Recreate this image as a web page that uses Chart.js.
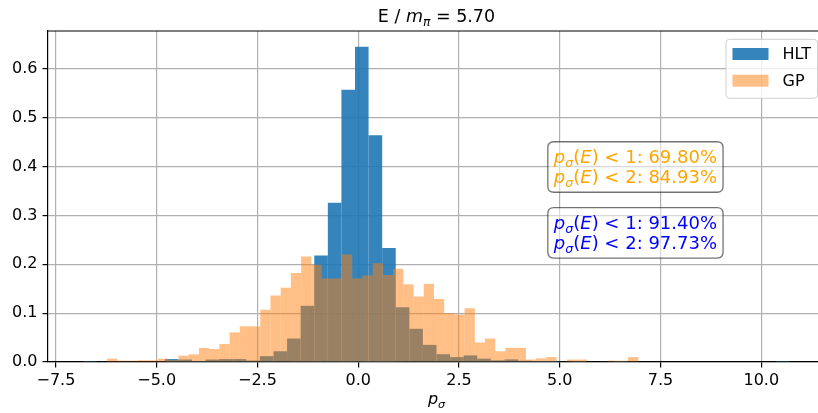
<!DOCTYPE html>
<html>
<head>
<meta charset="utf-8">
<script src="https://cdn.jsdelivr.net/npm/chart.js@4.4.1/dist/chart.umd.min.js"></script>
<style>
  html, body { margin: 0; padding: 0; overflow: hidden; background: #fff; }
  #wrap { width: 825px; height: 413px; position: relative; }
</style>
</head>
<body>
<div id="wrap"><canvas id="histChart"></canvas></div>
<script>
// histogram bins: first left edge, bin width, density per bin
const hltStart = -6.82;
const hltWidth = 0.337;
const hltDensity = [
  0.002, 0, 0, 0, 0, 0, 0.006, 0.005, 0.002, 0.005,
  0.006, 0.006, 0.003, 0.012, 0.022, 0.048, 0.115, 0.218, 0.326, 0.557,
  0.645, 0.464, 0.233, 0.112, 0.068, 0.035, 0.016, 0.010, 0.0135, 0.0068,
  0.0034, 0.0054, 0.0027, 0.002, 0.002, 0.001, 0.002, 0, 0.001, 0.002,
  0.001, 0, 0, 0, 0, 0, 0, 0, 0, 0,
  0, 0.002
];
const gpStart = -6.233;
const gpWidth = 0.2535;
const gpDensity = [
  0.0068, 0.0027, 0.0027, 0.0034, 0.0034, 0.0068, 0.004, 0.013, 0.0156, 0.0286,
  0.0265, 0.0367, 0.0605, 0.073, 0.073, 0.107, 0.136, 0.152, 0.182, 0.216,
  0.199, 0.171, 0.171, 0.220, 0.171, 0.177, 0.202, 0.178, 0.191, 0.159,
  0.134, 0.160, 0.129, 0.100, 0.097, 0.110, 0.040, 0.048, 0.022, 0.029,
  0.029, 0.005, 0.0075, 0.010, 0, 0.005, 0.005, 0, 0, 0.0027,
  0.0027, 0.010
];
const seriesNames = ["HLT", "GP"];
const xTicks = [-7.5, -5.0, -2.5, 0.0, 2.5, 5.0, 7.5, 10.0];
const yTicks = [0.0, 0.1, 0.2, 0.3, 0.4, 0.5, 0.6];
const thresholds = [1, 2];
const gpBelow = [69.80, 84.93];
const hltBelow = [91.40, 97.73];
const energy = 5.70;

const family = '"DejaVu Sans", sans-serif';
const tickSize = 16;

function toBins(start, width, dens) {
  return dens.map((d, i) => ({ x: start + (i + 0.5) * width, y: d }));
}

// axis range like matplotlib: data extent plus 5% margin
const lo = Math.min(hltStart, gpStart);
const hi = Math.max(hltStart + hltDensity.length * hltWidth, gpStart + gpDensity.length * gpWidth);
const xPad = 0.05 * (hi - lo);
const xMin = lo - xPad, xMax = hi + xPad;
const yMax = Math.max(...hltDensity, ...gpDensity) * 1.05;

const fmt = v => v.toFixed(1).replace("-", "\u2212");

// mixed italic / subscript text run
function runWidth(ctx, parts, size) {
  let w = 0;
  parts.forEach(p => {
    const s = p.sub ? size * 0.7 : size;
    ctx.font = (p.it ? "italic " : "") + s + "px " + family;
    w += ctx.measureText(p.t).width;
  });
  return w;
}
function drawRun(ctx, parts, x, y, size) {
  ctx.textBaseline = "alphabetic";
  ctx.textAlign = "left";
  parts.forEach(p => {
    const s = p.sub ? size * 0.7 : size;
    ctx.font = (p.it ? "italic " : "") + s + "px " + family;
    ctx.fillText(p.t, x, y + (p.sub ? size * 0.22 : 0));
    x += ctx.measureText(p.t).width;
  });
  return x;
}
function roundRect(ctx, x, y, w, h, r) {
  ctx.beginPath();
  ctx.moveTo(x + r, y);
  ctx.lineTo(x + w - r, y);
  ctx.quadraticCurveTo(x + w, y, x + w, y + r);
  ctx.lineTo(x + w, y + h - r);
  ctx.quadraticCurveTo(x + w, y + h, x + w - r, y + h);
  ctx.lineTo(x + r, y + h);
  ctx.quadraticCurveTo(x, y + h, x, y + h - r);
  ctx.lineTo(x, y + r);
  ctx.quadraticCurveTo(x, y, x + r, y);
  ctx.closePath();
}

const pSigma = [{ t: "p", it: true }, { t: "\u03c3", it: true, sub: true }];

const decorPlugin = {
  id: "decor",
  afterDraw(chart) {
    const ctx = chart.ctx;
    const a = chart.chartArea;
    ctx.save();

    // top spine
    ctx.strokeStyle = "#000";
    ctx.lineWidth = 1.2;
    ctx.beginPath();
    ctx.moveTo(a.left, a.top);
    ctx.lineTo(a.right, a.top);
    ctx.stroke();

    // title
    ctx.fillStyle = "#000";
    const title = [{ t: "E / " }, { t: "m", it: true }, { t: "\u03c0", it: true, sub: true }, { t: " = " + energy.toFixed(2) }];
    const tSize = 17.5;
    const cx = (a.left + a.right) / 2;
    drawRun(ctx, title, cx - runWidth(ctx, title, tSize) / 2, 22, tSize);

    // x label
    const xl = pSigma;
    drawRun(ctx, xl, cx - runWidth(ctx, xl, 16) / 2, 404, 16);

    // stats boxes
    const sSize = 18;
    const boxes = [
      { vals: gpBelow, color: "orange", base: a.top + 0.3995 * a.height },
      { vals: hltBelow, color: "blue", base: a.top + 0.5985 * a.height }
    ];
    const tx = a.left + 0.651 * a.width;
    boxes.forEach(b => {
      const lines = b.vals.map((v, i) => pSigma.concat([{ t: "(" }, { t: "E", it: true }, { t: ")" }, { t: " < " + thresholds[i] + ": " + v.toFixed(2) + "%" }]));
      const w = Math.max(...lines.map(l => runWidth(ctx, l, sSize)));
      const lead = 20;
      roundRect(ctx, tx - 6, b.base - 21.5, w + 12, lead + 30.5, 6);
      ctx.fillStyle = "rgba(255,255,255,0.5)";
      ctx.fill();
      ctx.strokeStyle = "rgba(0,0,0,0.55)";
      ctx.lineWidth = 1.3;
      ctx.stroke();
      ctx.fillStyle = b.color;
      lines.forEach((l, i) => drawRun(ctx, l, tx, b.base + i * lead, sSize));
    });

    // legend
    const lgSize = 16;
    ctx.font = lgSize + "px " + family;
    const labelW = Math.max(...chart.data.datasets.map(d => ctx.measureText(d.label).width));
    const pad = 6.5, hw = 36, hh = 12, gap = 14, row = 26.7;
    const lw = pad + hw + gap + labelW + pad;
    const lh = 59;
    const lx = a.right - 7.5 - lw, ly = a.top + 8.3;
    roundRect(ctx, lx, ly, lw, lh, 3.5);
    ctx.fillStyle = "rgba(255,255,255,0.8)";
    ctx.fill();
    ctx.strokeStyle = "#d0d0d0";
    ctx.lineWidth = 1;
    ctx.stroke();
    chart.data.datasets.forEach((d, i) => {
      const cy = ly + 14.7 + i * row;
      ctx.fillStyle = d.backgroundColor;
      ctx.fillRect(lx + pad, cy - hh / 2, hw, hh);
      ctx.fillStyle = "#000";
      ctx.font = lgSize + "px " + family;
      ctx.textBaseline = "middle";
      ctx.textAlign = "left";
      ctx.fillText(d.label, lx + pad + hw + gap, cy + 1);
    });
    ctx.restore();
  }
};

const gridStyle = { color: "#b0b0b0", lineWidth: 1.2, tickLength: 5.5, tickColor: "#000", tickWidth: 1.2, offset: false };
const borderStyle = { color: "#000", width: 1.2 };

new Chart(document.getElementById("histChart"), {
  type: "bar",
  data: {
    datasets: [
      {
        label: seriesNames[0],
        data: toBins(hltStart, hltWidth, hltDensity),
        xAxisID: "x",
        backgroundColor: "rgba(31,119,180,0.9)",
        order: 2
      },
      {
        label: seriesNames[1],
        data: toBins(gpStart, gpWidth, gpDensity),
        xAxisID: "xGP",
        backgroundColor: "rgba(255,127,14,0.5)",
        order: 1
      }
    ]
  },
  options: {
    responsive: true,
    maintainAspectRatio: false,
    animation: false,
    datasets: {
      bar: { grouped: false, barPercentage: 1, categoryPercentage: 1, borderWidth: 0, inflateAmount: 0 }
    },
    layout: { padding: { top: 31, left: 0, right: 0, bottom: 0 } },
    plugins: {
      legend: { display: false },
      tooltip: { enabled: false },
      title: { display: false }
    },
    scales: {
      x: {
        type: "linear",
        position: "bottom",
        min: xMin,
        max: xMax,
        offset: false,
        z: 1,
        afterBuildTicks: s => { s.ticks = xTicks.map(v => ({ value: v })); },
        afterFit: s => { s.height = 51; },
        grid: gridStyle,
        border: borderStyle,
        ticks: {
          color: "#000",
          font: { family: family, size: tickSize },
          padding: 4,
          maxRotation: 0,
          autoSkip: false,
          callback: v => fmt(v)
        }
      },
      xGP: {
        type: "linear",
        display: false,
        min: xMin,
        max: xMax,
        offset: false
      },
      y: {
        min: 0,
        max: yMax,
        z: 1,
        afterBuildTicks: s => { s.ticks = yTicks.map(v => ({ value: v })); },
        afterFit: s => { s.width = 48; },
        grid: gridStyle,
        border: borderStyle,
        ticks: {
          color: "#000",
          font: { family: family, size: tickSize },
          padding: 5,
          callback: v => fmt(v)
        }
      }
    }
  },
  plugins: [decorPlugin]
});
</script>
</body>
</html>
